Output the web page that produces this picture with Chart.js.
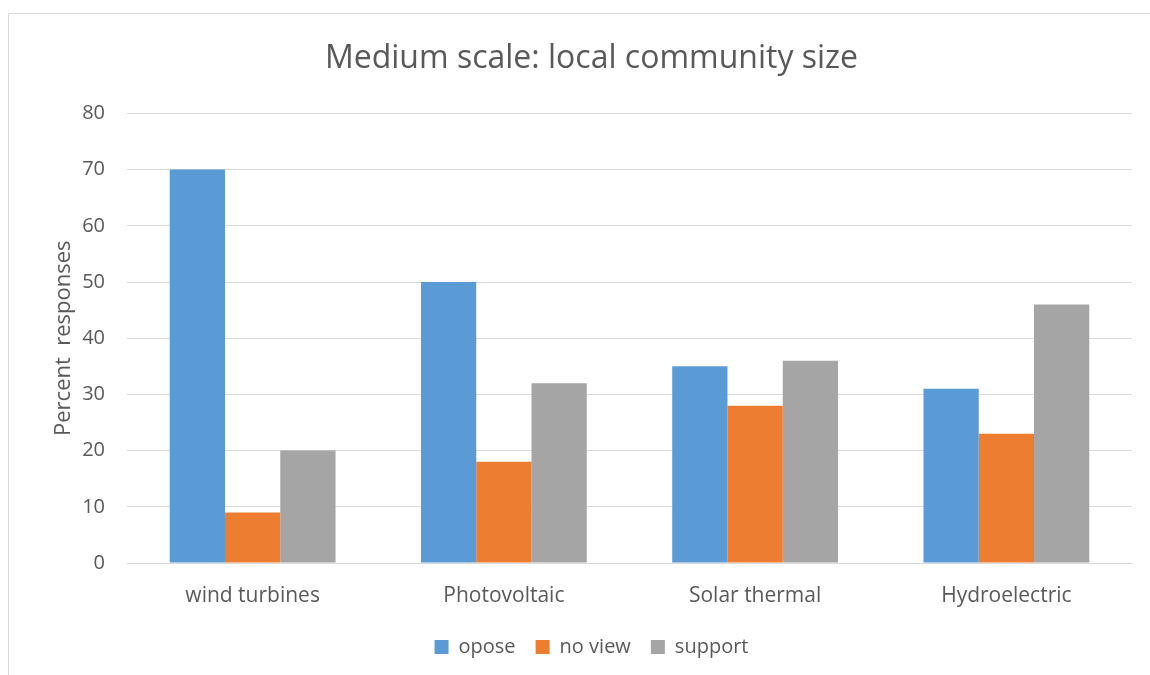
<!DOCTYPE html>
<html>
<head>
<meta charset="utf-8">
<script src="https://cdn.jsdelivr.net/npm/chart.js@4.4.1/dist/chart.umd.min.js"></script>
<style>
  html, body { margin: 0; padding: 0; background: #fff; }
  #wrap { width: 1150px; height: 675px; }
</style>
</head>
<body>
<div id="wrap"><canvas id="graphique"></canvas></div>
<script>
// Catégories et séries
const categories = ["wind turbines", "Photovoltaic", "Solar thermal", "Hydroelectric"];
const opose = [70, 50, 35, 31];
const noView = [9, 18, 28, 23];
const support = [20, 32, 36, 46];
const yTicks = [0, 10, 20, 30, 40, 50, 60, 70, 80];

const police = "'Open Sans', 'Liberation Sans', sans-serif";
const gris = "#595959";

// cadre gris clair autour du graphique
const cadre = {
    id: "cadre",
    beforeDraw(chart) {
        const ctx = chart.ctx;
        ctx.save();
        ctx.strokeStyle = "#d9d9d9";
        ctx.lineWidth = 1;
        ctx.beginPath();
        ctx.moveTo(8.5, 675);
        ctx.lineTo(8.5, 13.5);
        ctx.lineTo(1150, 13.5);
        ctx.stroke();
        ctx.restore();
    }
};

const ctx = document.getElementById("graphique").getContext("2d");

new Chart(ctx, {
    type: "bar",
    data: {
        labels: categories,
        datasets: [
            { label: "opose", data: opose, backgroundColor: "#5B9BD5" },
            { label: "no view", data: noView, backgroundColor: "#ED7D31" },
            { label: "support", data: support, backgroundColor: "#A5A5A5" }
        ]
    },
    options: {
        responsive: true,
        maintainAspectRatio: false,
        animation: false,
        layout: { padding: { left: 51, right: 18, top: 13, bottom: 8 } },
        datasets: { bar: { categoryPercentage: 0.66, barPercentage: 1.0 } },
        plugins: {
            title: {
                display: true,
                text: "Medium scale: local community size",
                color: gris,
                font: { family: police, size: 32, weight: "normal" },
                padding: { top: 27, bottom: 35 }
            },
            legend: {
                position: "bottom",
                labels: {
                    color: gris,
                    font: { family: police, size: 20 },
                    boxWidth: 14,
                    boxHeight: 14,
                    padding: 20
                }
            },
            tooltip: { enabled: false }
        },
        scales: {
            x: {
                afterFit(scale) { scale.height = 54; },
                grid: { display: false },
                border: { color: "#d9d9d9" },
                ticks: { color: gris, font: { family: police, size: 21 }, padding: 12 }
            },
            y: {
                min: 0,
                max: 80,
                afterBuildTicks(scale) {
                    scale.ticks = yTicks.map(v => ({ value: v }));
                },
                afterFit(scale) { scale.width = 76; },
                grid: { color: "#d9d9d9", drawTicks: false },
                border: { display: false },
                ticks: { color: gris, font: { family: police, size: 20 }, padding: 22 },
                title: {
                    display: true,
                    text: "Percent  responses",
                    color: gris,
                    font: { family: police, size: 22 },
                    padding: 0
                }
            }
        }
    },
    plugins: [cadre]
});
</script>
</body>
</html>
